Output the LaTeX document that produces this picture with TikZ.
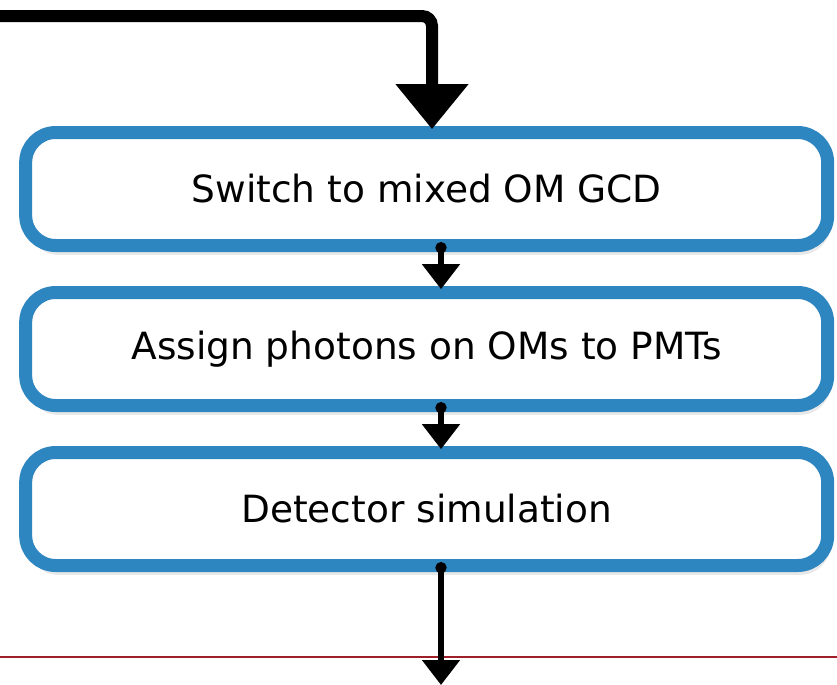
\documentclass[tikz,border=0pt]{standalone}
\usepackage{fontspec}
\setmainfont{DejaVu Sans}
\usepackage{xcolor}
\usepackage{tikz}
\usetikzlibrary{positioning,arrows.meta,shadows}
\definecolor{stepblue}{RGB}{46,134,193}
\definecolor{cutred}{RGB}{160,30,40}

\begin{document}
\begin{tikzpicture}[node distance=1.41cm,
  stage/.style={draw=stepblue, line width=0.39cm, outer sep=0pt, rounded corners=0.9cm, fill=white, minimum width=24.06cm, minimum height=3.39cm, font=\fontsize{32}{38}\selectfont, drop shadow={shadow xshift=0.08cm, shadow yshift=-0.28cm, opacity=0.18}},
  flow/.style={line width=0.18cm, {Circle[length=0.33cm]}-{Triangle[width=1.1cm,length=0.75cm]}},
  feed/.style={line width=0.36cm, rounded corners=0.3cm, -{Triangle[width=2.1cm,length=1.35cm]}}]
\useasboundingbox (0,0) rectangle (25.11,-20.52);
\node[stage] (mixed) at (12.8,-5.67) {Switch to mixed OM GCD};
\node[stage, below=of mixed] (assign) {Assign photons on OMs to PMTs};
\node[stage, below=of assign] (detsim) {Detector simulation};

\coordinate (feedx) at (12.96,0);
\coordinate (flowx) at (13.23,0);
\coordinate (start) at (0,-0.48);
\coordinate (out) at (13.23,-20.55);

% cut line near the bottom
\draw[cutred, line width=0.06cm] (0,-19.71) -- (25.11,-19.71);

\draw[feed] (start) -| ([yshift=0.1cm]mixed.north -| feedx);
\draw[flow] ([yshift=0.1cm]mixed.south -| flowx) -- ([yshift=0.1cm]assign.north -| flowx);
\draw[flow] ([yshift=0.1cm]assign.south -| flowx) -- ([yshift=0.1cm]detsim.north -| flowx);
\draw[flow] ([yshift=0.1cm]detsim.south -| flowx) -- (out);
\end{tikzpicture}
\end{document}
